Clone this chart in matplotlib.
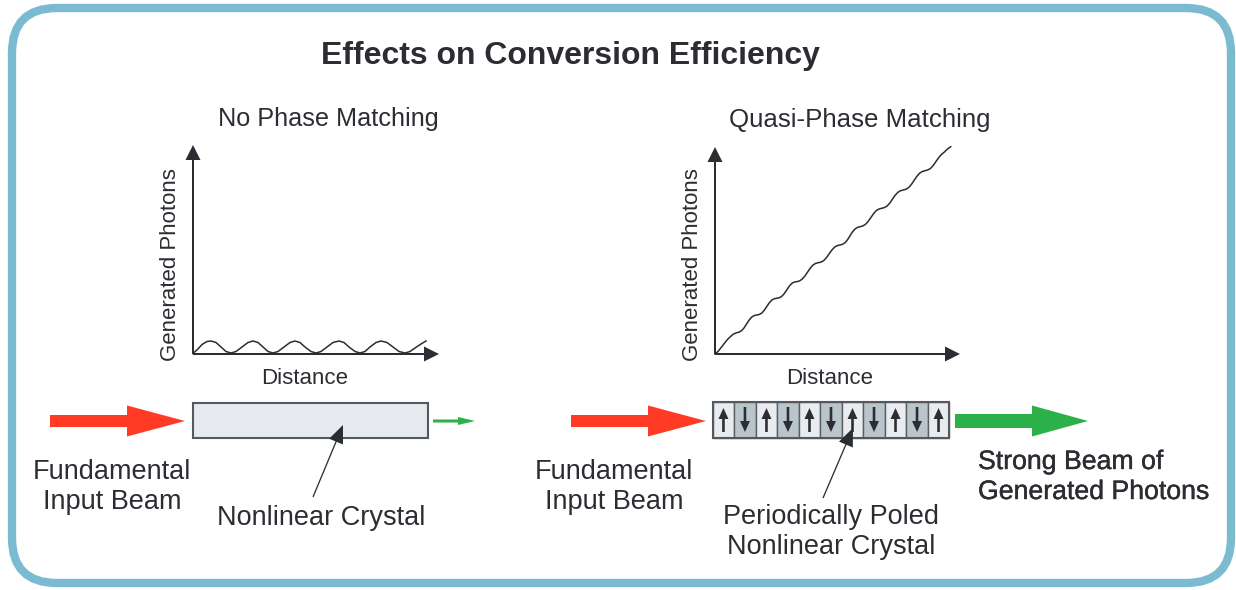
import matplotlib.pyplot as plt
import matplotlib.patheffects as pe
from matplotlib.patches import FancyBboxPatch, Rectangle

plt.rcParams['font.family'] = ['Liberation Sans', 'DejaVu Sans']

W, H = 1236, 590
ink = '#2b2d32'
red = '#ff3b25'
green = '#2bb04a'

# no phase matching: distance vs generated photons (px from graph origin)
npm_x = [0, 5, 9, 14, 18, 23, 28, 33, 38, 43, 49, 55, 60, 65, 70, 75, 80, 85, 91, 97, 102,
         107, 112, 118, 123, 128, 134, 140, 146, 151, 156, 162, 167, 172, 177, 183, 188,
         194, 200, 206, 212, 217, 222, 228, 233]
npm_y = [0.5, 5, 9.5, 12.5, 13, 11.5, 7, 2.5, 1, 2.5, 7, 11.5, 13, 11.5, 7, 2.5, 1, 2.5, 7, 11.5, 13,
         11.5, 7, 2.5, 1, 2.5, 7, 11.5, 13, 11.5, 7, 2.5, 1, 2.5, 7, 11.5, 13,
         11.5, 7, 2.5, 1, 2.5, 6, 10, 13]

# quasi-phase matching
qpm_x = [0, 3, 5, 7.5, 10, 12.5, 15, 18,
         21.7, 24.2, 26.7, 29.2, 31.7, 34.2, 36.7, 39.2,
         41.7, 44.2, 46.7, 49.2, 51.7, 54.2, 56.7, 59.2,
         61.7, 64.2, 66.7, 69.2, 71.7, 74.2, 76.7, 79.2,
         81.7, 84.4, 87.1, 89.8, 92.5, 95.2, 97.9, 100.6,
         103.3, 106.0, 108.7, 111.4, 114.2, 116.9, 119.6, 122.3,
         125, 127.5, 130, 132.5, 135, 137.5, 140, 142.5,
         145, 147.7, 150.4, 153.1, 155.9, 158.6, 161.3, 164.0,
         166.7, 169.4, 172.1, 174.8, 177.5, 180.2, 182.9, 185.6,
         188.3, 191.0, 193.7, 196.4, 199.2, 201.9, 204.6, 207.3,
         210, 212.7, 215.4, 218.1, 220.8, 223.5, 226.2, 229, 232, 235.7]
qpm_y = [0, 2.5, 5, 8.2, 11.5, 14.5, 17, 19.7,
         21.3, 21.9, 23.4, 26.3, 30.2, 34.0, 36.9, 38.4,
         39, 39.5, 40.9, 43.6, 47.4, 51.1, 53.8, 55.2,
         55.7, 56.2, 57.6, 60.3, 64.0, 67.7, 70.5, 71.9,
         72.3, 73.0, 74.8, 77.8, 81.8, 85.8, 88.9, 90.6,
         91.3, 91.9, 93.4, 96.3, 100.2, 104.0, 106.9, 108.4,
         109, 109.7, 111.3, 114.2, 118.2, 122.1, 125.0, 126.6,
         127.3, 128.0, 129.6, 132.6, 136.5, 140.4, 143.4, 145.0,
         145.7, 146.4, 148.0, 150.9, 154.9, 158.8, 161.7, 163.3,
         164, 164.8, 166.5, 169.6, 173.7, 177.7, 180.8, 182.5,
         183.3, 184.0, 185.5, 188.3, 192.2, 196.1, 199.3, 201.6, 204.6, 207.3]

# poling direction of each domain (1 = up, -1 = down)
domains = [1, -1, 1, -1, 1, -1, 1, -1, 1, -1, 1]

fig = plt.figure(figsize=(W / 100, H / 100), dpi=100)
ax = fig.add_axes([0, 0, 1, 1])
ax.set_xlim(0, W)
ax.set_ylim(H, 0)
ax.axis('off')

ax.add_patch(FancyBboxPatch((12, 8), 1219, 575, boxstyle='round,pad=0,rounding_size=45',
                            fc='white', ec='#7bbbd1', lw=6))

ax.text(570, 56, 'Effects on Conversion Efficiency', ha='center', va='center',
        fontsize=23, fontweight='bold', color=ink)
ax.text(328, 119, 'No Phase Matching', ha='center', va='center', fontsize=18.2, color=ink)
ax.text(860, 120, 'Quasi-Phase Matching', ha='center', va='center', fontsize=18.6, color=ink)


def graph(x0, y0, w, h, xs, ys, lab_x, dist_x):
    g = fig.add_axes([x0 / W, 1 - y0 / H, w / W, h / H])
    g.set_xlim(0, w)
    g.set_ylim(0, h)
    g.axis('off')
    g.plot(xs, ys, color=ink, lw=1.1, clip_on=False, solid_joinstyle='round')
    g.arrow(0, 0, w, 0, width=2, head_width=15, head_length=15, length_includes_head=True,
            fc=ink, ec='none', clip_on=False)
    g.arrow(0, 0, 0, h, width=2, head_width=15, head_length=15, length_includes_head=True,
            fc=ink, ec='none', clip_on=False)
    ax.text(lab_x, y0 - 89, 'Generated Photons', rotation=90, ha='center', va='center',
            fontsize=16, color=ink)
    ax.text(dist_x, 378, 'Distance', ha='center', va='center', fontsize=16, color=ink)


graph(193, 354, 246, 209, npm_x, npm_y, 171, 305)
graph(715, 354, 245, 207, qpm_x, qpm_y, 693, 830)


def beam(x0, x1, y, shaft, head_w, head_l, col):
    ax.arrow(x0, y, x1 - x0, 0, width=shaft, head_width=head_w, head_length=head_l,
             length_includes_head=True, fc=col, ec='none')


beam(50, 185, 421, 12, 31, 58, red)
beam(571, 706, 421, 12, 31, 58, red)
beam(433, 475, 421, 3, 8, 17, green)
beam(955, 1088, 421, 14, 31, 56, green)

# plain crystal
ax.add_patch(Rectangle((193, 403), 235, 35, fc='#e6eaee', ec='#55595e', lw=1.5))

# periodically poled crystal
cx0, cx1, cy0, cy1 = 712.7, 949.3, 402, 438
cw = (cx1 - cx0) / len(domains)
for i, d in enumerate(domains):
    xl = cx0 + i * cw
    ax.add_patch(Rectangle((xl, cy0), cw, cy1 - cy0, fc='#e8ecef' if d > 0 else '#b9c4cb',
                           ec='#5a5f64', lw=1))
    xc = xl + cw / 2
    if d > 0:
        ax.arrow(xc, 432, 0, -24, width=2.6, head_width=10, head_length=11,
                 length_includes_head=True, fc=ink, ec='none')
    else:
        ax.arrow(xc, 407, 0, 25, width=2.6, head_width=10, head_length=11,
                 length_includes_head=True, fc=ink, ec='none')
ax.add_patch(Rectangle((cx0, cy0), cx1 - cx0, cy1 - cy0, fc='none', ec='#55595e', lw=1.5))

# pointers
ax.arrow(313, 497, 30, -72, width=1.3, head_width=15, head_length=18,
         length_includes_head=True, fc=ink, ec='none')
ax.arrow(823, 498, 30, -70, width=1.3, head_width=15, head_length=18,
         length_includes_head=True, fc=ink, ec='none')

lab = dict(ha='center', va='center', fontsize=19.5, color=ink, linespacing=1.2)
ax.text(112, 487, 'Fundamental\nInput Beam', **lab)
ax.text(614, 487, 'Fundamental\nInput Beam', **lab)
ax.text(321, 518, 'Nonlinear Crystal', **lab)
ax.text(831, 532, 'Periodically Poled\nNonlinear Crystal', **lab)
ax.text(978, 477, 'Strong Beam of\nGenerated Photons', ha='left', va='center', fontsize=19.2,
        color=ink, linespacing=1.2,
        path_effects=[pe.withStroke(linewidth=0.3, foreground=ink)])

fig.savefig('out.png', dpi=100)
